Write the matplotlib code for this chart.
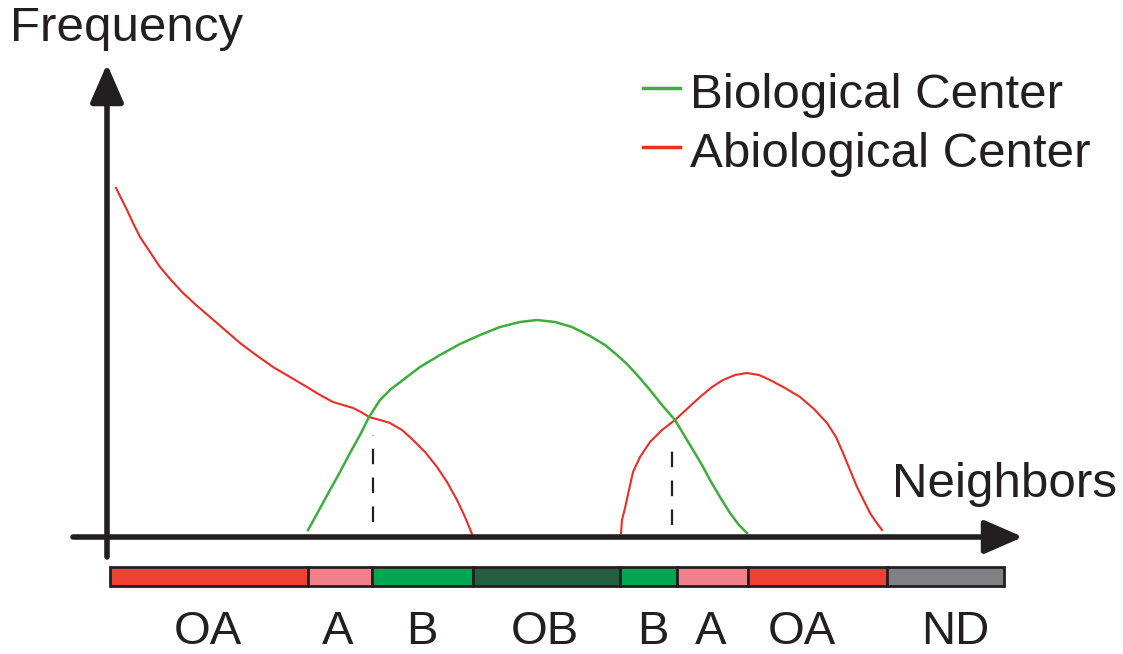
import numpy as np
import matplotlib
matplotlib.use("Agg")
import matplotlib.pyplot as plt

plt.rcParams['font.family'] = ['Liberation Sans', 'DejaVu Sans']

# curves: x = neighbors position, y = frequency (height above the x axis)
abio1_x = [116, 121, 127, 133, 140, 150, 160, 171, 183, 196, 210, 225, 240, 256, 273, 290, 307,
           320, 333, 343, 353, 361, 369, 380, 390, 402, 413, 425, 437, 447, 457, 465, 472]
abio1_y = [349, 339, 327, 314, 300, 285, 270, 257, 244, 232, 220, 207, 194, 182, 170, 160, 150,
           142, 135, 132, 129, 125, 120, 117, 114, 107, 97, 85, 70, 55, 37, 20, 3]

bio_x = [308, 318, 330, 340, 350, 360, 369, 380, 391, 403, 420, 440, 460, 480, 500, 520, 537, 555,
         572, 590, 605, 617, 627, 638, 650, 662, 675, 684, 693, 702, 710, 720, 730, 739, 747]
bio_y = [7, 25, 47, 65, 84, 102, 120, 137, 148, 157, 170, 182, 193, 202, 210, 215, 217, 215,
         210, 201, 192, 182, 173, 161, 147, 132, 117, 102, 87, 72, 57, 40, 24, 12, 4]

abio2_x = [621, 622, 625, 629, 633, 640, 650, 662, 675, 688, 700, 712, 723, 735, 747, 759, 770,
           785, 800, 814, 827, 836, 843, 850, 857, 864, 870, 876, 882]
abio2_y = [4, 17, 29, 47, 65, 80, 95, 107, 117, 129, 140, 150, 157, 162, 164, 162, 157,
           149, 140, 128, 114, 100, 84, 67, 50, 36, 24, 15, 7]

# crossing points (dashed markers)
cross_x = [373, 672]
cross_top = [102, 97]
cross_bottom = [15, 12]

# classification bar
seg_edges = [110, 308, 372, 473, 620, 677, 748, 887, 1004]
seg_colors = ['#EF4136', '#F0808A', '#00A650', '#235E3E', '#00A650', '#F0808A', '#EF4136', '#808085']
seg_labels = ['OA', 'A', 'B', 'OB', 'B', 'A', 'OA', 'ND']
label_x = [208, 338, 422, 545, 653, 711, 802, 955]

green = '#3DAE3A'
red = '#EE2B25'
ink = '#231F20'

fig = plt.figure(figsize=(11.23, 6.54), dpi=100)
ax = fig.add_axes([0, 0, 1, 1])
ax.set_xlim(0, 1123)
ax.set_ylim(-117, 537)
ax.axis('off')

ax.plot(abio1_x, abio1_y, color=red, lw=1.5)
ax.plot(abio2_x, abio2_y, color=red, lw=1.5)
ax.plot(bio_x, bio_y, color=green, lw=1.8)

for x, t, b in zip(cross_x, cross_top, cross_bottom):
    ax.plot([x, x], [b, t], color=ink, lw=1.6, ls=(0, (7, 6)))

# axes with arrows
arrow = dict(arrowstyle='-|>,head_length=0.78,head_width=0.34', color=ink,
             lw=4, mutation_scale=30, shrinkA=0, shrinkB=0)
ax.annotate('', xy=(1023, 0), xytext=(73, 0), arrowprops=arrow)
ax.annotate('', xy=(107, 473), xytext=(107, -20), arrowprops=arrow)

ax.text(10, 496, 'Frequency', fontsize=35.5, color=ink, va='baseline', ha='left')
ax.text(892, 40, 'Neighbors', fontsize=35.5, color=ink, va='baseline', ha='left')

# legend
ax.plot([643, 680], [449, 449], color=green, lw=2.5)
ax.plot([643, 680], [390, 390], color=red, lw=2.5)
ax.text(690, 429, 'Biological Center', fontsize=35.5, color=ink, va='baseline')
ax.text(690, 370, 'Abiological Center', fontsize=35.5, color=ink, va='baseline')

lefts = seg_edges[:-1]
widths = np.diff(seg_edges)
ax.barh(-39.5, widths, left=lefts, height=19, color=seg_colors,
        edgecolor=ink, linewidth=2)
for lx, lab in zip(label_x, seg_labels):
    ax.text(lx, -107, lab, fontsize=34, color=ink, ha='center', va='baseline')

fig.savefig('out.png', dpi=100)
